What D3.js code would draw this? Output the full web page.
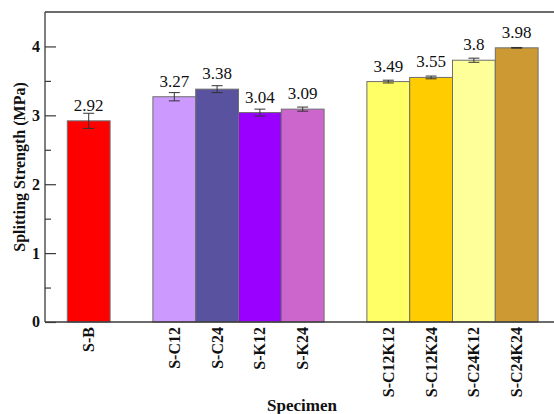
<!DOCTYPE html>
<html>
<head>
<meta charset="utf-8">
<script src="https://cdn.jsdelivr.net/npm/d3@7/dist/d3.min.js"></script>
<style>
  html, body { margin: 0; padding: 0; background: #fff; }
  svg { display: block; }
</style>
</head>
<body>
<svg id="chart" width="554" height="414" font-family="'Liberation Serif', 'DejaVu Serif', serif"></svg>
<script>
// Specimen groups (one empty slot is left between groups)
const groups = [
  ["S-B"],
  ["S-C12", "S-C24", "S-K12", "S-K24"],
  ["S-C12K12", "S-C12K24", "S-C24K12", "S-C24K24"]
];
// Mean splitting strength (MPa)
const strength = [2.92, 3.27, 3.38, 3.04, 3.09, 3.49, 3.55, 3.80, 3.98];
// Error (± MPa)
const errors = [0.11, 0.06, 0.05, 0.05, 0.03, 0.02, 0.02, 0.03, 0.005];
// Bar fills
const fills = ["#ff0000", "#cc99ff", "#59529f", "#9900ff", "#cc66cc",
               "#ffff66", "#ffcc00", "#ffff99", "#cc9933"];
// Value labels as printed
const valueLabels = ["2.92", "3.27", "3.38", "3.04", "3.09", "3.49", "3.55", "3.8", "3.98"];
const yTicks = [0, 1, 2, 3, 4];
const yMinorTicks = [0.5, 1.5, 2.5, 3.5];

// Flatten groups into slot indices
const bars = [];
let slot = 0;
groups.forEach(g => {
  g.forEach(name => {
    const k = bars.length;
    bars.push({ name, slot, value: strength[k], err: errors[k], fill: fills[k], label: valueLabels[k] });
    slot += 1;
  });
  slot += 1; // gap between groups
});

const FONT = "Liberation Serif";
const svg = d3.select("#chart");
const W = 554;
const plotTop = 12, plotBottom = 322, plotLeft = 45;

const x = d3.scaleLinear().domain([-0.5, 12]).range([45.9, 45.9 + 12.5 * 42.8]);
const y = d3.scaleLinear().domain([0, 4.5]).range([plotBottom, plotTop]);
const cx = d => (x(d.slot) + x(d.slot + 1)) / 2;

// Bars
svg.append("g").selectAll("rect").data(bars).join("rect")
  .attr("x", d => x(d.slot))
  .attr("width", d => x(d.slot + 1) - x(d.slot))
  .attr("y", d => y(d.value))
  .attr("height", d => y(0) - y(d.value))
  .attr("fill", d => d.fill)
  .attr("stroke", "#6e6e6e")
  .attr("stroke-width", 1);

// Error bars
const eb = svg.append("g").attr("stroke", "#333").attr("stroke-width", 1);
bars.forEach(d => {
  const c = cx(d);
  eb.append("line").attr("x1", c).attr("x2", c).attr("y1", y(d.value + d.err)).attr("y2", y(d.value - d.err));
  eb.append("line").attr("x1", c - 5.5).attr("x2", c + 5.5).attr("y1", y(d.value + d.err)).attr("y2", y(d.value + d.err));
  eb.append("line").attr("x1", c - 5.5).attr("x2", c + 5.5).attr("y1", y(d.value - d.err)).attr("y2", y(d.value - d.err));
});

// Value labels
svg.append("g").selectAll("text").data(bars).join("text")
  .attr("x", cx)
  .attr("y", d => y(d.value) - 10)
  .attr("text-anchor", "middle")
  .attr("font-family", FONT)
  .attr("font-size", 17)
  .attr("fill", "#111")
  .text(d => d.label);

// Frame: left, top, bottom
const frame = svg.append("g").attr("stroke", "#3a3a3a").attr("stroke-width", 1.3).attr("fill", "none");
frame.append("line").attr("x1", plotLeft).attr("x2", plotLeft).attr("y1", plotTop).attr("y2", plotBottom);
frame.append("line").attr("x1", plotLeft).attr("x2", W).attr("y1", plotTop).attr("y2", plotTop);
frame.append("line").attr("x1", plotLeft).attr("x2", W).attr("y1", plotBottom).attr("y2", plotBottom);

// Y axis (ticks point inward)
const yAxis = svg.append("g").attr("transform", `translate(${plotLeft},0)`)
  .call(d3.axisRight(y).tickValues(yTicks).tickSize(11).tickFormat(""));
yAxis.select(".domain").remove();
yAxis.selectAll("line").attr("stroke", "#3a3a3a").attr("stroke-width", 1.2);
const yMinor = svg.append("g").attr("transform", `translate(${plotLeft},0)`)
  .call(d3.axisRight(y).tickValues(yMinorTicks).tickSize(6).tickFormat(""));
yMinor.select(".domain").remove();
yMinor.selectAll("line").attr("stroke", "#3a3a3a").attr("stroke-width", 1.2);

svg.append("g").selectAll("text").data(yTicks).join("text")
  .attr("x", 40)
  .attr("y", d => y(d))
  .attr("dy", "0.34em")
  .attr("text-anchor", "end")
  .attr("font-family", FONT)
  .attr("font-size", 16)
  .attr("font-weight", "bold")
  .attr("fill", "#111")
  .text(d => d);

// Category labels (vertical)
svg.append("g").selectAll("text").data(bars).join("text")
  .attr("transform", d => `translate(${cx(d) + 5.5},${plotBottom + 5}) rotate(-90)`)
  .attr("text-anchor", "end")
  .attr("font-family", FONT)
  .attr("font-size", 16)
  .attr("font-weight", "bold")
  .attr("fill", "#111")
  .text(d => d.name);

// Axis titles
svg.append("text")
  .attr("transform", `translate(25,${(plotTop + plotBottom) / 2}) rotate(-90)`)
  .attr("text-anchor", "middle")
  .attr("font-family", FONT)
  .attr("font-size", 16)
  .attr("font-weight", "bold")
  .attr("fill", "#111")
  .text("Splitting Strength (MPa)");

svg.append("text")
  .attr("x", 302)
  .attr("y", 411)
  .attr("text-anchor", "middle")
  .attr("font-family", FONT)
  .attr("font-size", 17)
  .attr("font-weight", "bold")
  .attr("fill", "#111")
  .text("Specimen");
</script>
</body>
</html>
